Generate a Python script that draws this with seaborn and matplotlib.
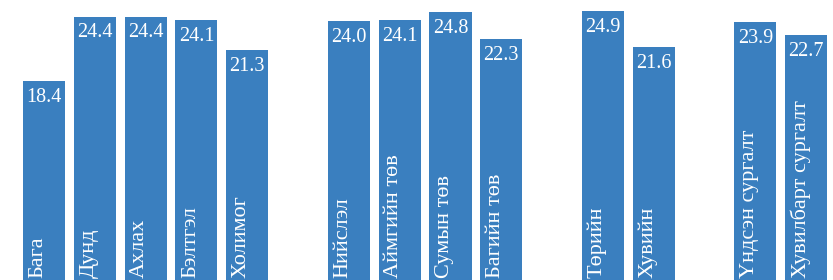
import matplotlib
matplotlib.use("Agg")
import matplotlib.pyplot as plt
import seaborn as sns
import pandas as pd

# Data, one list per group of bars
level_labels = ["Бага", "Дунд", "Ахлах", "Бэлтгэл", "Холимог"]
level_values = [18.4, 24.4, 24.4, 24.1, 21.3]

location_labels = ["Нийслэл", "Аймгийн төв", "Сумын төв", "Багийн төв"]
location_values = [24.0, 24.1, 24.8, 22.3]

owner_labels = ["Төрийн", "Хувийн"]
owner_values = [24.9, 21.6]

program_labels = ["Үндсэн сургалт", "Хувилбарт сургалт"]
program_values = [23.9, 22.7]

groups = [
    (level_labels, level_values),
    (location_labels, location_values),
    (owner_labels, owner_values),
    (program_labels, program_values),
]

# Build table, leaving one empty slot between groups
rows = []
slot = 0
for labels, values in groups:
    for lab, val in zip(labels, values):
        rows.append({"pos": slot, "label": lab, "value": val})
        slot += 1
    slot += 1
df = pd.DataFrame(rows)

sns.set_theme(style="white")
plt.rcParams["font.family"] = ["Liberation Serif", "DejaVu Serif"]

BAR_COLOR = "#3a7fbf"
BAR_WIDTH = 0.83

fig = plt.figure(figsize=(8.33, 2.8), dpi=100)
ax = fig.add_axes([0, 0, 1, 1])

sns.barplot(
    data=df,
    x="pos",
    y="value",
    native_scale=True,
    width=BAR_WIDTH,
    color=BAR_COLOR,
    saturation=1,
    errorbar=None,
    linewidth=0,
    ax=ax,
)

for _, r in df.iterrows():
    # value at the top of the bar
    ax.annotate(
        f"{r['value']:.1f}",
        xy=(r["pos"], r["value"]),
        xytext=(0, -5),
        textcoords="offset points",
        ha="center",
        va="top",
        color="white",
        fontsize=14.5,
    )
    # category name, rotated, at the bottom of the bar
    ax.text(
        r["pos"] - BAR_WIDTH / 2 + 0.11,
        0.2,
        r["label"],
        rotation=90,
        ha="left",
        va="bottom",
        color="white",
        fontsize=16,
    )

ax.set_xlim(-0.866, 15.53)
ax.set_ylim(0, 25.93)
ax.axis("off")

fig.savefig("out.png", dpi=100)
